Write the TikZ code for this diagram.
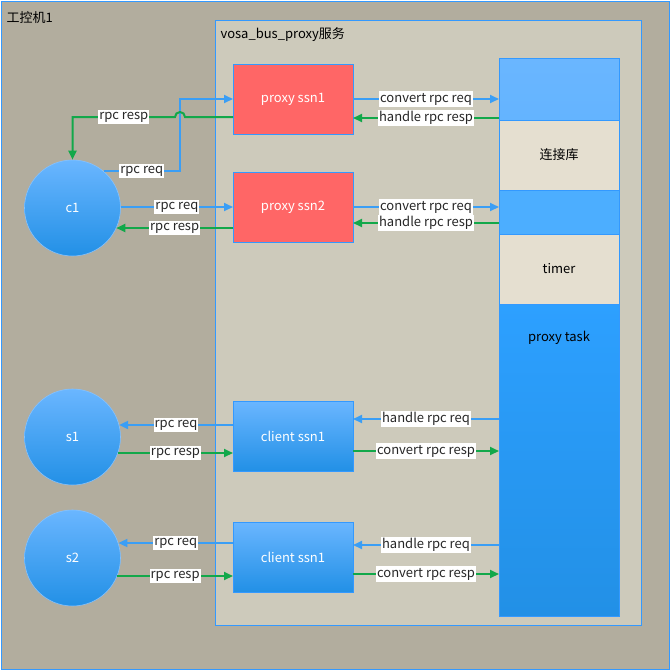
\documentclass[tikz,border=0pt]{standalone}
\usepackage{fontspec}
\setmainfont{Noto Sans CJK SC}
\usetikzlibrary{arrows.meta,positioning,calc}
\definecolor{hostgray}{HTML}{B2AD9E}
\definecolor{svcgray}{HTML}{CDCABB}
\definecolor{myblue}{HTML}{3399FF}
\definecolor{reqblue}{HTML}{3A9EF5}
\definecolor{respgreen}{HTML}{12A84A}
\definecolor{ssnred}{HTML}{FF6666}
\definecolor{libbeige}{HTML}{E5DFD0}
\definecolor{peertop}{HTML}{6AB6FF}
\definecolor{peermid}{HTML}{2DA0FF}
\definecolor{peerbot}{HTML}{2290E6}

\begin{document}
\begin{tikzpicture}[x=1pt, y=-1pt, font=\fontsize{13}{15}\selectfont,
  box/.style={rectangle, draw=myblue, line width=0.8pt, outer sep=0pt, inner sep=0pt},
  ssn/.style={box, minimum width=120pt, minimum height=70pt, text=white},
  colblock/.style={box, minimum width=120pt},
  peer/.style={circle, draw=myblue!60, line width=0.6pt, minimum size=96pt, inner sep=0pt, text=white, top color=peertop, middle color=peermid, bottom color=peerbot},
  lbl/.style={fill=white, inner xsep=1pt, inner ysep=1.5pt, text=black!85},
  req/.style={draw=reqblue, line width=2pt, -{Triangle[length=9pt,width=8pt]}},
  resp/.style={draw=respgreen, line width=2pt, -{Triangle[length=9pt,width=8pt]}}]
\useasboundingbox (0,0) rectangle (670,670);

% host and service frames
\node[box, fill=hostgray, minimum width=668pt, minimum height=668pt] (host) at (335,335) {};
\node[box, fill=svcgray, minimum width=426pt, minimum height=605pt] (svc) at (428,322.5) {};
\node[anchor=west] (hostname) at (3,18) {工控机1};
\node[anchor=west] (svcname) at (217,35) {vosa\_bus\_proxy服务};

% sessions
\node[ssn, fill=ssnred] (psn1) at (293,99) {proxy ssn1};
\node[ssn, fill=ssnred] (psn2) at (293,207) {proxy ssn2};
\node[ssn, top color=peertop, bottom color=peerbot] (csn1) at (293,436) {client ssn1};
\node[ssn, top color=peertop, bottom color=peerbot] (csn2) at (293,557) {client ssn1};

% right column
\node[colblock, minimum height=62pt, top color=peertop, bottom color=peertop!90!peermid] (conn) at (559,89) {};
\node[colblock, minimum height=70pt, fill=libbeige, below=0pt of conn] (lib) {连接库};
\node[colblock, minimum height=44pt, fill=peermid!85!white, below=0pt of lib] (conn2) {};
\node[colblock, minimum height=70pt, fill=libbeige, below=0pt of conn2] (timer) {timer};
\node[colblock, minimum height=312pt, top color=peermid, bottom color=peerbot, below=0pt of timer] (task) {};
\node[below=24pt of task.north] (tasklbl) {proxy task};

% peers
\node[peer] (c1) at (72.5,208) {c1};
\node[peer] (s1) at (72.5,437) {s1};
\node[peer] (s2) at (72.5,558) {s2};

% c1 <-> proxy ssn1
\draw[req] (c1.50 |- 0,171) -| node[lbl, pos=0.25] {rpc req} ([xshift=-53pt]psn1.west) -- (psn1.west);
\draw[resp] (psn1.west |- 0,117) -- (185,117) arc (0:-180:5) -| node[lbl, pos=0.25] {rpc resp} (c1.north);

% c1 <-> proxy ssn2
\draw[req] (c1.east |- 0,207) -- node[lbl] {rpc req} (psn2.west |- 0,207);
\draw[resp] (psn2.west |- 0,228) -- node[lbl] {rpc resp} (c1.-25 |- 0,228);

% s1, s2 <-> client ssn
\draw[req] (csn1.west |- 0,425) -- node[lbl] {rpc req} (s1.15 |- 0,425);
\draw[resp] (s1.-20 |- 0,453) -- node[lbl] {rpc resp} (csn1.west |- 0,453);
\draw[req] (csn2.west |- 0,543) -- node[lbl] {rpc req} (s2.18 |- 0,543);
\draw[resp] (s2.-22 |- 0,576) -- node[lbl] {rpc resp} (csn2.west |- 0,576);

% sessions <-> column
\draw[req] (psn1.east |- 0,99) -- node[lbl] {convert rpc req} (conn.west |- 0,99);
\draw[resp] (conn.west |- 0,118) -- node[lbl] {handle rpc resp} (psn1.east |- 0,118);
\draw[req] (psn2.east |- 0,207) -- node[lbl] {convert rpc req} (conn2.west |- 0,207);
\draw[resp] (conn2.west |- 0,223) -- node[lbl] {handle rpc resp} (psn2.east |- 0,223);
\draw[req] (task.west |- 0,419) -- node[lbl] {handle rpc req} (csn1.east |- 0,419);
\draw[resp] (csn1.east |- 0,451) -- node[lbl] {convert rpc resp} (task.west |- 0,451);
\draw[req] (task.west |- 0,545) -- node[lbl] {handle rpc req} (csn2.east |- 0,545);
\draw[resp] (csn2.east |- 0,574) -- node[lbl] {convert rpc resp} (task.west |- 0,574);
\end{tikzpicture}
\end{document}
